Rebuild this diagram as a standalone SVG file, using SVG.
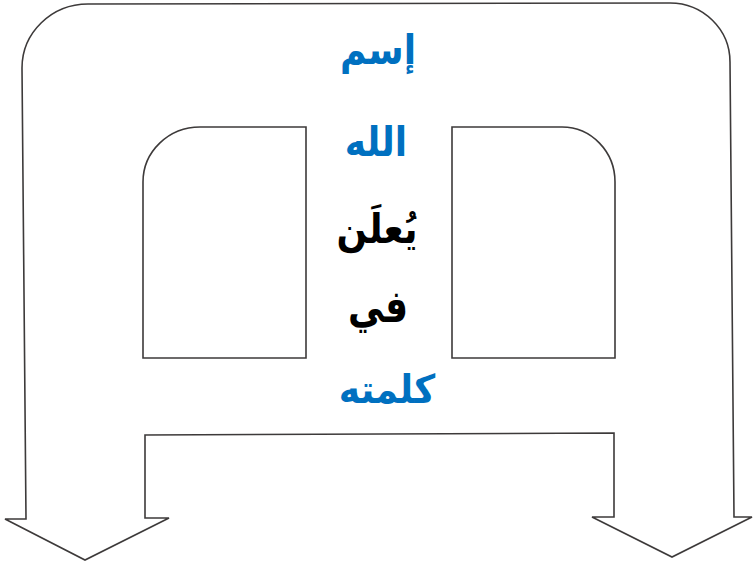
<svg xmlns="http://www.w3.org/2000/svg" width="753" height="567" viewBox="0 0 753 567">
<style>
.ln{fill:#fff;stroke:#3d3a3a;stroke-width:1.6;stroke-linejoin:miter}
.w{fill:#fff;stroke:#3d3a3a;stroke-width:1.6}
.t{font-family:"DejaVu Sans",sans-serif;font-weight:bold;font-size:36px;text-anchor:middle;direction:rtl}
.b{fill:#0070C0}
.k{fill:#000}
</style>
<rect width="753" height="567" fill="#fff"/>
<g id="frame">
<path class="ln" d="M22,68 A66 64 0 0 1 88,4 L670,3 A60 59 0 0 1 730,62 L734,517 L752,517 L672,557 L592,517 L614,517 L614,433 L145,435 L145,518 L169,518 L85,560 L5,519 L26,519 Z"/>
</g>
<g id="window-left">
<path class="w" d="M143,182 A57 55 0 0 1 200,127 L306,127 L306,358 L143,358 Z"/>
</g>
<g id="window-right">
<path class="w" d="M452,127 L562,127 A53 55 0 0 1 615,182 L615,358 L452,358 Z"/>
</g>
<g id="words">
<text class="t b" transform="translate(378,64) scale(1,1.15)">إسم</text>
<text class="t b" transform="translate(376,156) scale(1,1.15)">الله</text>
<text class="t k" transform="translate(377,243) scale(1,1.15)">يُعلَن</text>
<text class="t k" transform="translate(378,322) scale(1,1.25)">في</text>
<text class="t b" transform="translate(387,403) scale(1,1.1)">كلمته</text>
</g>
</svg>
